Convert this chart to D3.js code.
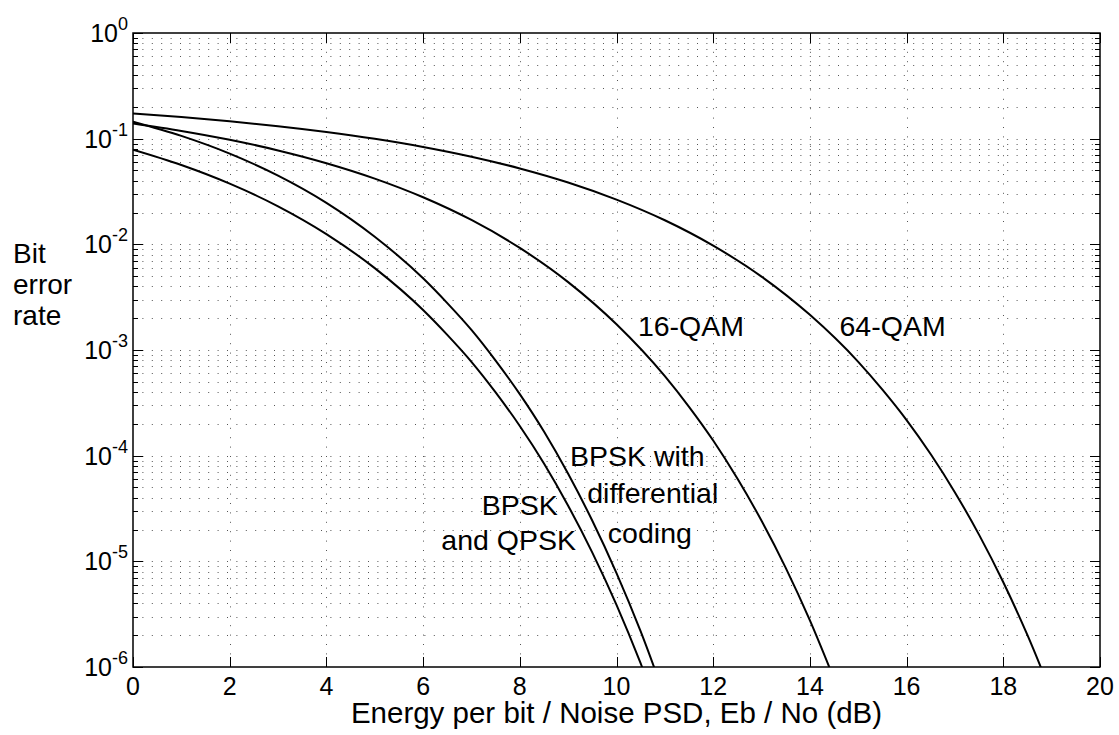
<!DOCTYPE html>
<html>
<head>
<meta charset="utf-8">
<script src="https://cdn.jsdelivr.net/npm/d3@7"></script>
<style>
  body { margin: 0; background: #fff; }
  text { font-family: Arial, "Liberation Sans", Helvetica, sans-serif; fill: #000; }
</style>
</head>
<body>
<div id="chart-area"></div>
<script>
// Eb/No (dB) sample points and bit error rates
var snrBpsk = [0, 1, 2, 3, 4, 5, 6, 6.5, 7, 7.5, 8, 8.5, 9, 9.5, 10, 10.5, 11];
var berBpsk = [7.86e-2, 5.63e-2, 3.75e-2, 2.29e-2, 1.25e-2, 5.95e-3, 2.39e-3, 1.39e-3, 7.73e-4, 3.97e-4, 1.91e-4, 8.44e-5, 3.36e-5, 1.21e-5, 3.87e-6, 1.08e-6, 2.61e-7];
var berDiff = [1.449e-1, 1.062e-1, 7.22e-2, 4.47e-2, 2.47e-2, 1.18e-2, 4.77e-3, 2.78e-3, 1.55e-3, 7.94e-4, 3.82e-4, 1.69e-4, 6.73e-5, 2.42e-5, 7.74e-6, 2.17e-6, 5.22e-7];

var snr16 = [0, 1, 2, 3, 4, 5, 6, 7, 8, 9, 10, 11, 11.5, 12, 12.5, 13, 13.5, 14, 14.5];
var ber16 = [1.392e-1, 1.184e-1, 9.76e-2, 7.74e-2, 5.86e-2, 4.19e-2, 2.79e-2, 1.70e-2, 9.25e-3, 4.39e-3, 1.75e-3, 5.65e-4, 2.90e-4, 1.39e-4, 6.07e-5, 2.42e-5, 8.68e-6, 2.76e-6, 7.70e-7];

var snr64 = [0, 1, 2, 3, 4, 5, 6, 7, 8, 9, 10, 11, 12, 13, 14, 15, 15.5, 16, 16.5, 17, 17.5, 18, 18.5, 19];
var ber64 = [1.730e-1, 1.601e-1, 1.461e-1, 1.313e-1, 1.157e-1, 9.97e-2, 8.35e-2, 6.75e-2, 5.23e-2, 3.85e-2, 2.65e-2, 1.69e-2, 9.72e-3, 4.95e-3, 2.15e-3, 7.72e-4, 4.21e-4, 2.17e-4, 1.03e-4, 4.49e-5, 1.78e-5, 6.34e-6, 2.00e-6, 5.55e-7];

var xTicks = [0, 2, 4, 6, 8, 10, 12, 14, 16, 18, 20];
var yExponents = [0, -1, -2, -3, -4, -5, -6];

// annotation text lines, anchored (centre, baseline) at an (Eb/No, BER) spot
var labelText = ['16-QAM', '64-QAM', 'BPSK with', 'differential', 'coding', 'BPSK', 'and QPSK'];
var labelSnr = [11.54, 15.71, 10.43, 10.75, 10.69, 8.00, 7.77];
var labelBer = [1.36e-3, 1.36e-3, 8.0e-5, 3.57e-5, 1.50e-5, 2.75e-5, 1.28e-5];

var series = [
	{ snr: snrBpsk, ber: berBpsk },
	{ snr: snrBpsk, ber: berDiff },
	{ snr: snr16, ber: ber16 },
	{ snr: snr64, ber: ber64 }
];

var W = 1119, H = 735;
var margin = { top: 33, bottom: 68, left: 133, right: 19 };
var width = W - margin.left - margin.right;
var height = H - margin.top - margin.bottom;

var svg = d3.select('#chart-area').append('svg')
	.attr('width', W)
	.attr('height', H);

var g = svg.append('g').attr('transform', `translate(${margin.left}, ${margin.top})`);

var x = d3.scaleLinear().domain([0, 20]).range([0, width]);
var y = d3.scaleLog().domain([1e-6, 1]).range([height, 0]);

// all log ticks (major + minor)
var logTicks = [];
for (var e = -6; e < 0; e++) {
	for (var m = 1; m < 10; m++) logTicks.push(m * Math.pow(10, e));
}
logTicks.push(1);

// dotted grid
g.append('g').selectAll('line').data(logTicks.filter(d => d > 1e-6 && d < 1)).enter()
	.append('line')
	.attr('x1', 0).attr('x2', width)
	.attr('y1', d => Math.round(y(d)) + 0.5).attr('y2', d => Math.round(y(d)) + 0.5)
	.attr('stroke', '#555').attr('stroke-width', 1)
	.attr('stroke-dasharray', '1 8.4');

g.append('g').selectAll('line').data(xTicks.filter(d => d > 0 && d < 20)).enter()
	.append('line')
	.attr('x1', d => Math.round(x(d)) + 0.5).attr('x2', d => Math.round(x(d)) + 0.5)
	.attr('y1', 0).attr('y2', height)
	.attr('stroke', '#555').attr('stroke-width', 1)
	.attr('stroke-dasharray', '1 8.4');

// ticks on all four sides, pointing inward
var ticks = g.append('g').attr('stroke', '#000').attr('stroke-width', 1);
xTicks.forEach(d => {
	var px = Math.round(x(d)) + 0.5;
	ticks.append('line').attr('x1', px).attr('x2', px).attr('y1', height).attr('y2', height - 10);
	ticks.append('line').attr('x1', px).attr('x2', px).attr('y1', 0).attr('y2', 10);
});
logTicks.forEach(d => {
	var py = Math.round(y(d)) + 0.5;
	var major = Math.abs(Math.log10(d) - Math.round(Math.log10(d))) < 1e-9;
	var len = major ? 10 : 5;
	ticks.append('line').attr('x1', 0).attr('x2', len).attr('y1', py).attr('y2', py);
	ticks.append('line').attr('x1', width).attr('x2', width - len).attr('y1', py).attr('y2', py);
});

// curves
svg.append('clipPath').attr('id', 'plot-clip')
	.append('rect').attr('width', width).attr('height', height);

var line = d3.line()
	.x(d => x(d[0]))
	.y(d => y(d[1]))
	.curve(d3.curveMonotoneX);

g.append('g').attr('clip-path', 'url(#plot-clip)')
	.selectAll('path').data(series).enter()
	.append('path')
	.attr('d', s => line(s.snr.map((v, i) => [v, s.ber[i]])))
	.attr('fill', 'none')
	.attr('stroke', '#000')
	.attr('stroke-width', 2);

// frame
g.append('rect')
	.attr('width', width).attr('height', height)
	.attr('fill', 'none').attr('stroke', '#000').attr('stroke-width', 1.5);

// x tick labels
g.append('g').selectAll('text').data(xTicks).enter()
	.append('text')
	.attr('x', d => x(d))
	.attr('y', height + 28)
	.attr('text-anchor', 'middle')
	.attr('font-size', '25px')
	.text(d => d);

// y tick labels 10^n
var yLab = g.append('g').selectAll('text').data(yExponents).enter()
	.append('text')
	.attr('x', -5)
	.attr('y', d => y(Math.pow(10, d)) + 9)
	.attr('text-anchor', 'end')
	.attr('font-size', '25px');
yLab.append('tspan').text('10');
yLab.append('tspan').attr('dy', -12).attr('font-size', '18px').text(d => d === 0 ? '0' : '-' + (-d));

// axis titles
g.append('text')
	.attr('x', width / 2)
	.attr('y', height + 56)
	.attr('text-anchor', 'middle')
	.attr('font-size', '29.5px')
	.text('Energy per bit / Noise PSD, Eb / No (dB)');

var yTitle = svg.append('text')
	.attr('x', 13)
	.attr('font-size', '28px');
['Bit', 'error', 'rate'].forEach((t, i) => {
	yTitle.append('tspan').attr('x', 13).attr('y', 263 + i * 31).text(t);
});

// curve labels
g.append('g').selectAll('text').data(labelText).enter()
	.append('text')
	.attr('x', (d, i) => x(labelSnr[i]))
	.attr('y', (d, i) => y(labelBer[i]))
	.attr('text-anchor', 'middle')
	.attr('font-size', '28.5px')
	.text(d => d);
</script>
</body>
</html>
